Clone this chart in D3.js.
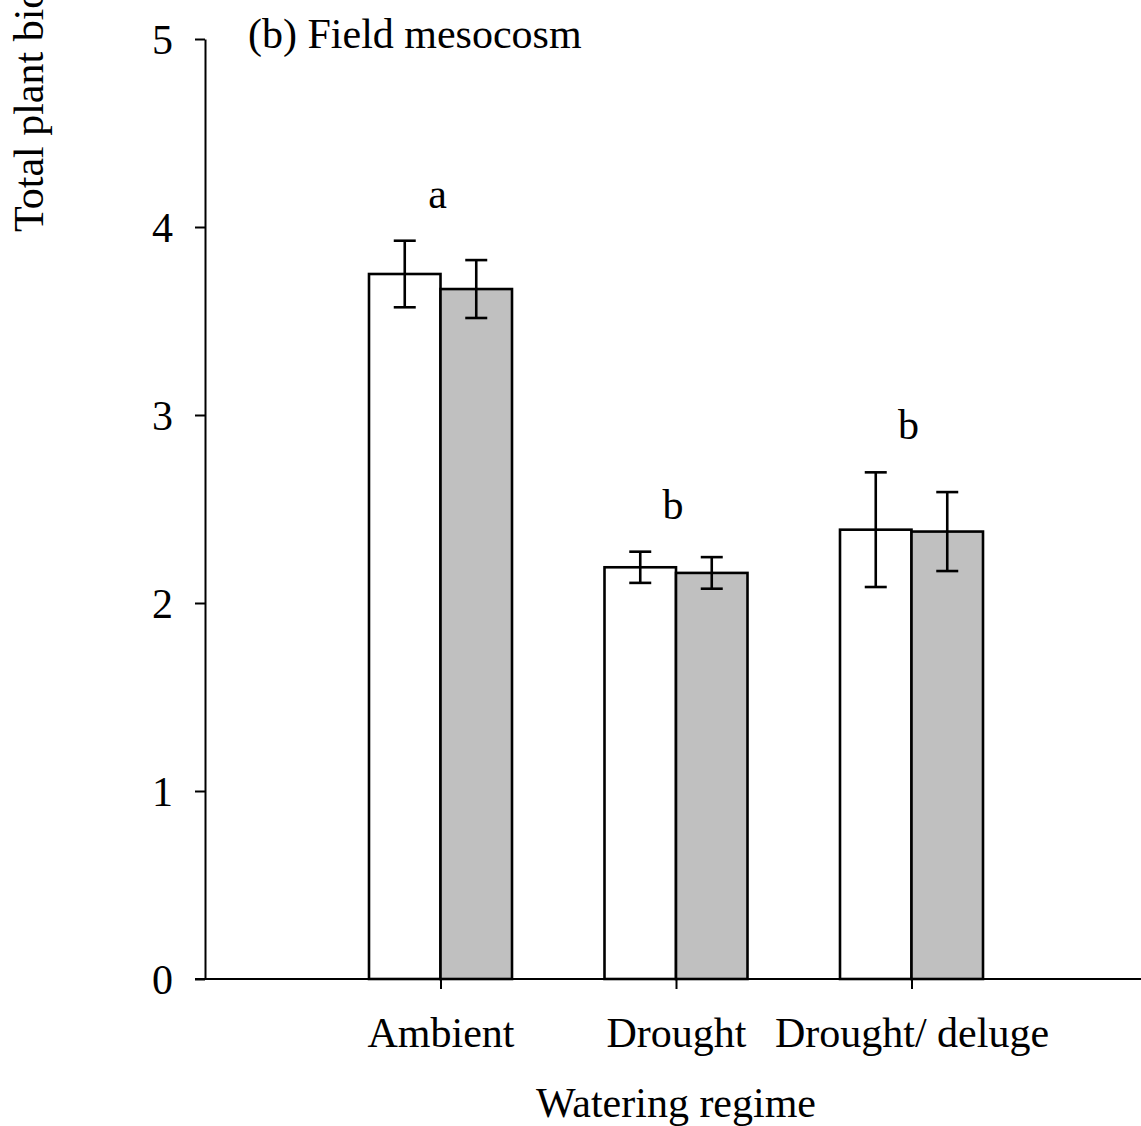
<!DOCTYPE html>
<html>
<head>
<meta charset="utf-8">
<script src="https://cdn.jsdelivr.net/npm/d3@7"></script>
<style>
  html, body { margin: 0; padding: 0; background: #fff; }
  svg { display: block; }
  text { font-family: "Liberation Serif", "Times New Roman", serif; fill: #000; }
</style>
</head>
<body>
<svg id="chart" width="1141" height="1126"></svg>
<script>
// Watering regimes on the x axis
const categories = ["Ambient", "Drought", "Drought/ deluge"];
// Two treatments drawn side by side in each regime
const series = ["open", "shaded"];
// Mean total plant biomass per regime
const openMeans   = [3.75, 2.19, 2.39];
const shadedMeans = [3.67, 2.16, 2.38];
// Standard errors
const openSE   = [0.177, 0.083, 0.305];
const shadedSE = [0.154, 0.084, 0.210];
// Letters marking significant differences between regimes
const sigLetters = ["a", "b", "b"];
// Y axis ticks
const yTicks = [0, 1, 2, 3, 4, 5];

const svg = d3.select("#chart");
const W = 1141, H = 1126;
const plotLeft = 205, plotRight = 1147, plotTop = 39, plotBottom = 979;
const fontSize = 42;

const y = d3.scaleLinear().domain([0, 5]).range([plotBottom, plotTop]);
const x = d3.scalePoint().domain(categories).range([plotLeft, plotRight]).padding(1);
const barBand = d3.scaleBand().domain(series).range([-71.5, 71.5]).padding(0);
const fills = { open: "#ffffff", shaded: "#c0c0c0" };

const rows = categories.map((c, i) => ({
  cat: c,
  letter: sigLetters[i],
  bars: [
    { s: "open", mean: openMeans[i], se: openSE[i] },
    { s: "shaded", mean: shadedMeans[i], se: shadedSE[i] }
  ]
}));

// Bars
const groups = svg.append("g").selectAll("g").data(rows).join("g")
  .attr("transform", d => `translate(${x(d.cat)},0)`);

groups.selectAll("rect").data(d => d.bars).join("rect")
  .attr("x", d => barBand(d.s))
  .attr("y", d => y(d.mean))
  .attr("width", barBand.bandwidth())
  .attr("height", d => y(0) - y(d.mean))
  .attr("fill", d => fills[d.s])
  .attr("stroke", "#000")
  .attr("stroke-width", 2.6);

// Error bars
const cap = 11;
const cx = d => barBand(d.s) + barBand.bandwidth() / 2;
const eb = groups.selectAll("g.err").data(d => d.bars).join("g").attr("class", "err")
  .attr("stroke", "#000").attr("stroke-width", 2.6);
eb.append("line")
  .attr("x1", cx).attr("x2", cx)
  .attr("y1", d => y(d.mean - d.se))
  .attr("y2", d => y(d.mean + d.se));
eb.append("line")
  .attr("x1", d => cx(d) - cap).attr("x2", d => cx(d) + cap)
  .attr("y1", d => y(d.mean + d.se))
  .attr("y2", d => y(d.mean + d.se));
eb.append("line")
  .attr("x1", d => cx(d) - cap).attr("x2", d => cx(d) + cap)
  .attr("y1", d => y(d.mean - d.se))
  .attr("y2", d => y(d.mean - d.se));

// Significance letters above the taller error bar
groups.append("text")
  .attr("x", -3)
  .attr("y", d => d3.min(d.bars, b => y(b.mean + b.se)) - 33)
  .attr("text-anchor", "middle")
  .attr("font-size", fontSize)
  .text(d => d.letter);

// Y axis
const yAxis = svg.append("g")
  .attr("transform", `translate(${plotLeft},0)`)
  .call(d3.axisLeft(y).tickValues(yTicks).tickFormat(d3.format("d"))
    .tickSize(10).tickSizeOuter(0).tickPadding(22));
yAxis.selectAll("text").attr("font-size", fontSize)
  .attr("font-family", "'Liberation Serif', 'Times New Roman', serif")
  .attr("dy", "0.34em");
yAxis.selectAll("line, path").attr("stroke", "#000").attr("stroke-width", 2);

// X axis
const xAxis = svg.append("g")
  .attr("transform", `translate(0,${plotBottom})`)
  .call(d3.axisBottom(x).tickSize(10).tickSizeOuter(0).tickPadding(46));
xAxis.select("path.domain").remove();
xAxis.append("line")
  .attr("x1", plotLeft - 10).attr("x2", W)
  .attr("stroke", "#000").attr("stroke-width", 2);
xAxis.selectAll("line").attr("stroke", "#000").attr("stroke-width", 2);
xAxis.selectAll("text").attr("font-size", fontSize)
  .attr("font-family", "'Liberation Serif', 'Times New Roman', serif")
  .attr("dy", "0em")
  .attr("y", 68);

// Axis titles
svg.append("text")
  .attr("x", x("Drought"))
  .attr("y", 1117)
  .attr("text-anchor", "middle")
  .attr("font-size", fontSize)
  .text("Watering regime");

svg.append("text")
  .attr("transform", "translate(43,232) rotate(-90)")
  .attr("text-anchor", "start")
  .attr("font-size", fontSize)
  .text("Total plant biomass (g)");

// Panel label
svg.append("text")
  .attr("x", 248)
  .attr("y", 48)
  .attr("font-size", fontSize)
  .text("(b) Field mesocosm");
</script>
</body>
</html>
